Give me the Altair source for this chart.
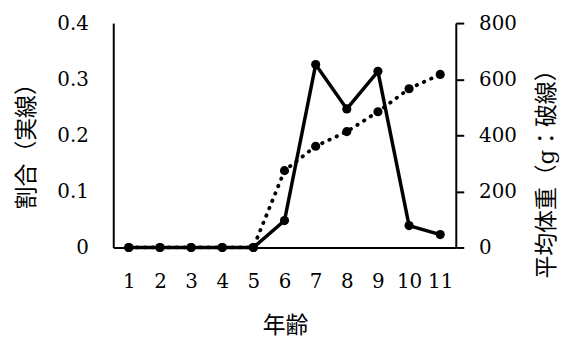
import altair as alt
import pandas as pd

ages = [1, 2, 3, 4, 5, 6, 7, 8, 9, 10, 11]
ratio = [0, 0, 0, 0, 0, 0.048, 0.326, 0.247, 0.314, 0.039, 0.023]
weight = [0, 0, 0, 0, 0, 274, 361, 413, 484, 566, 617]

df = pd.DataFrame({"age": ages, "ratio": ratio, "weight": weight})

FONT = "DejaVu Serif, Noto Sans CJK JP"

x_enc = alt.X(
    "age:O",
    scale=alt.Scale(type="point", padding=0.5),
    axis=alt.Axis(
        title="年齢", labelAngle=0, ticks=False, grid=False,
        domainColor="black", domainWidth=2,
        labelFont=FONT, labelFontSize=20, labelColor="black",
        labelBaseline="middle", labelPadding=34,
        titleFont=FONT, titleFontSize=23, titleFontWeight="normal", titleColor="black",
        titleX=173, titleY=79, titleAlign="center", titleBaseline="middle",
    ),
)

base = alt.Chart(df)

solid_y = alt.Y(
    "ratio:Q",
    scale=alt.Scale(domain=[0, 0.4], nice=False),
    axis=alt.Axis(
        title="割合（実線）", values=[0, 0.1, 0.2, 0.3, 0.4],
        labelExpr="datum.value == 0 ? '0' : format(datum.value, '.1f')",
        ticks=False, grid=False, domainColor="black", domainWidth=2,
        labelFont=FONT, labelFontSize=20, labelColor="black", labelPadding=25,
        titleFont=FONT, titleFontSize=23, titleFontWeight="normal", titleColor="black",
        titleAngle=-90, titleX=-87, titleY=118, titleAlign="center", titleBaseline="middle",
    ),
)

weight_y = alt.Y(
    "weight:Q",
    scale=alt.Scale(domain=[0, 800], nice=False),
    axis=alt.Axis(
        orient="right", title="平均体重（g：破線）", values=[0, 200, 400, 600, 800],
        ticks=True, tickSize=8, tickColor="black", tickWidth=2, grid=False,
        domainColor="black", domainWidth=2,
        labelFont=FONT, labelFontSize=20, labelColor="black", labelPadding=15,
        titleFont=FONT, titleFontSize=23, titleFontWeight="normal", titleColor="black",
        titleAngle=-90, titleX=91, titleY=146, titleAlign="center", titleBaseline="middle",
    ),
)

solid = base.mark_line(
    color="black", strokeWidth=3.5,
    point=alt.OverlayMarkDef(color="black", size=85, filled=True, opacity=1),
).encode(x=x_enc, y=solid_y)

dotted = base.mark_line(
    color="black", strokeWidth=3.8, strokeDash=[0.5, 7.5], strokeCap="round",
    point=alt.OverlayMarkDef(color="black", size=85, filled=True, opacity=1),
).encode(x=x_enc, y=weight_y)

chart = (
    alt.layer(solid, dotted)
    .resolve_scale(y="independent")
    .properties(
        width=345, height=226,
        padding={"left": 106, "top": 14, "right": 111, "bottom": 94},
        autosize=alt.AutoSizeParams(type="none"),
        background="white",
    )
    .configure_view(stroke=None)
)

chart.save("out.html", embed_options={"renderer": "svg", "actions": False})
